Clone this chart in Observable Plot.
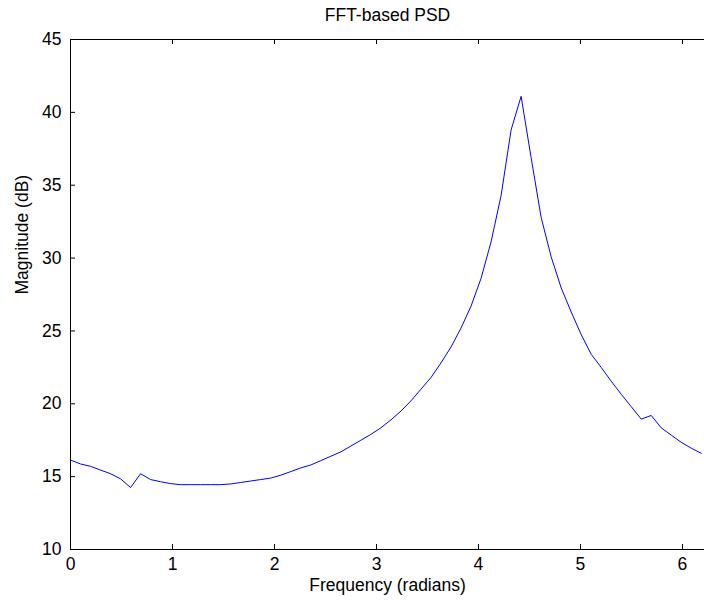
<!DOCTYPE html>
<html>
<head>
<meta charset="utf-8">
<script src="https://cdn.jsdelivr.net/npm/d3@7"></script>
<script src="https://cdn.jsdelivr.net/npm/@observablehq/plot@0.6"></script>
<style>
  html, body { margin: 0; padding: 0; background: #fff; }
  #chart svg { display: block; }
</style>
</head>
<body>
<div id="chart"></div>
<script>
// Frequencies (radians), k * 2π/64
const frequency = [
  0.000, 0.098, 0.196, 0.295, 0.393, 0.491, 0.589, 0.687, 0.785, 0.884,
  0.982, 1.080, 1.178, 1.276, 1.374, 1.473, 1.571, 1.669, 1.767, 1.865,
  1.963, 2.062, 2.160, 2.258, 2.356, 2.454, 2.553, 2.651, 2.749, 2.847,
  2.945, 3.043, 3.142, 3.240, 3.338, 3.436, 3.534, 3.632, 3.731, 3.829,
  3.927, 4.025, 4.123, 4.222, 4.320, 4.418, 4.516, 4.614, 4.712, 4.811,
  4.909, 5.007, 5.105, 5.203, 5.301, 5.400, 5.498, 5.596, 5.694, 5.792,
  5.890, 5.989, 6.087, 6.185
];
// Magnitude (dB)
const magnitude = [
  16.14, 15.87, 15.71, 15.45, 15.20, 14.85, 14.25, 15.20, 14.80, 14.65,
  14.52, 14.45, 14.45, 14.45, 14.45, 14.45, 14.50, 14.60, 14.70, 14.80,
  14.90, 15.10, 15.35, 15.60, 15.80, 16.10, 16.40, 16.70, 17.10, 17.50,
  17.90, 18.35, 18.90, 19.50, 20.20, 21.00, 21.80, 22.80, 23.90, 25.20,
  26.70, 28.60, 31.10, 34.30, 38.80, 41.10, 36.90, 32.80, 30.10, 27.95,
  26.30, 24.75, 23.40, 22.50, 21.55, 20.65, 19.80, 18.95, 19.20, 18.35,
  17.85, 17.35, 16.95, 16.60
];
const xTicks = [0, 1, 2, 3, 4, 5, 6];
const yTicks = [10, 15, 20, 25, 30, 35, 40, 45];
const titleText = "FFT-based PSD";
const xLabel = "Frequency (radians)";
const yLabel = "Magnitude (dB)";

const data = frequency.map((f, i) => ({f, m: magnitude[i]}));

const W = 704, H = 600;
const mL = 70, mR = 0, mT = 39, mB = 51;
const plotW = W - mL - mR, plotH = H - mT - mB;
const tick = 5;
const FS = 17.5;

const chart = Plot.plot({
  width: W,
  height: H,
  marginLeft: mL,
  marginRight: mR,
  marginTop: mT,
  marginBottom: mB,
  style: {fontFamily: "'Liberation Sans', Arial, Helvetica, sans-serif", fontSize: FS + "px", color: "#000", background: "#fff"},
  x: {domain: [0, 6.216], axis: null},
  y: {domain: [10, 45], axis: null},
  marks: [
    Plot.line(data, {x: "f", y: "m", stroke: "#0000ff", strokeWidth: 1}),
    // frame lines
    Plot.ruleY([45, 10], {stroke: "#000", strokeWidth: 1}),
    Plot.ruleX([0], {stroke: "#000", strokeWidth: 1}),
    // inward ticks
    Plot.tickY(yTicks, {y: d => d, insetRight: plotW - tick, stroke: "#000"}),
    Plot.tickX(xTicks, {x: d => d, insetTop: plotH - tick, stroke: "#000"}),
    Plot.tickX(xTicks, {x: d => d, insetBottom: plotH - tick, stroke: "#000"}),
    // tick labels
    Plot.axisX(xTicks, {tickSize: 0, tickPadding: 8, fontSize: FS, label: null}),
    Plot.axisY(yTicks, {tickSize: 0, tickPadding: 9, fontSize: FS, label: null}),
    // titles
    Plot.text([xLabel], {text: d => d, frameAnchor: "bottom", dy: 41, fontSize: FS, fill: "#000"}),
    Plot.text([yLabel], {text: d => d, frameAnchor: "left", rotate: -90, dx: -48, fontSize: FS, fill: "#000"}),
    Plot.text([titleText], {text: d => d, frameAnchor: "top", dy: -31, fontSize: FS, fill: "#000"})
  ]
});
document.getElementById("chart").appendChild(chart);
</script>
</body>
</html>
